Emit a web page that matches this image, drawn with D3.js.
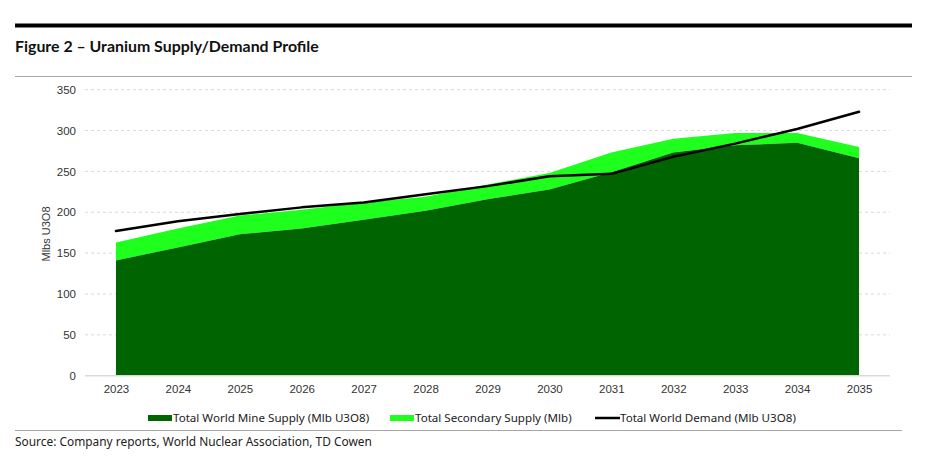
<!DOCTYPE html>
<html>
<head>
<meta charset="utf-8">
<script src="https://cdn.jsdelivr.net/npm/d3@7"></script>
<style>
  html, body { margin: 0; padding: 0; background: #fff; }
  svg { display: block; }
</style>
</head>
<body>
<svg id="chart" width="935" height="474"></svg>
<script>
const years = ["2023","2024","2025","2026","2027","2028","2029","2030","2031","2032","2033","2034","2035"];
const mineSupply = [141, 157, 173, 180, 191, 202, 216, 228, 249, 273, 282, 285, 266];
const secondarySupply = [22, 23, 23, 23, 21, 17, 18, 20, 24, 17, 15, 12, 14];
const worldDemand = [177, 189, 198, 206, 212, 222, 232, 244, 247, 268, 284, 302, 323];
const yTicks = [0, 50, 100, 150, 200, 250, 300, 350];
const seriesNames = ["Total World Mine Supply (Mlb U3O8)", "Total Secondary Supply (Mlb)", "Total World Demand (Mlb U3O8)"];

const svg = d3.select("#chart");
const C = { dark: "#006400", light: "#1eff1e", line: "#000000" };

// frame lines
svg.append("rect").attr("x", 15).attr("y", 23.5).attr("width", 897).attr("height", 4).attr("fill", "#000");
svg.append("text").attr("x", 15).attr("y", 51.5)
  .attr("font-family", "Lato, 'Open Sans', sans-serif").attr("font-weight", 700)
  .attr("font-size", 15.9).attr("fill", "#111")
  .text("Figure 2 – Uranium Supply/Demand Profile");
svg.append("line").attr("x1", 15).attr("x2", 912).attr("y1", 76.5).attr("y2", 76.5)
  .attr("stroke", "#a6a6a6").attr("stroke-width", 1);

const x = d3.scalePoint().domain(years).range([85, 890]).padding(0.5);
const y = d3.scaleLinear().domain([0, 350]).range([375.7, 89.7]);

// gridlines
const grid = svg.append("g");
grid.selectAll("line").data(yTicks.filter(d => d > 0)).join("line")
  .attr("x1", 85).attr("x2", 890)
  .attr("y1", d => y(d)).attr("y2", d => y(d))
  .attr("stroke", "#d9d9d9").attr("stroke-width", 1).attr("stroke-dasharray", "3,3");

const data = years.map((yr, i) => ({ yr, mine: mineSupply[i], sec: secondarySupply[i], dem: worldDemand[i] }));

const areaSec = d3.area().x(d => x(d.yr)).y0(d => y(d.mine)).y1(d => y(d.mine + d.sec));
const areaMine = d3.area().x(d => x(d.yr)).y0(y(0)).y1(d => y(d.mine));
svg.append("path").datum(data).attr("d", areaSec).attr("fill", C.light);
svg.append("path").datum(data).attr("d", areaMine).attr("fill", C.dark);

// baseline
svg.append("line").attr("x1", 85).attr("x2", 890).attr("y1", y(0)).attr("y2", y(0))
  .attr("stroke", "#d9d9d9").attr("stroke-width", 1.5);

const line = d3.line().x(d => x(d.yr)).y(d => y(d.dem));
svg.append("path").datum(data).attr("d", line).attr("fill", "none")
  .attr("stroke", C.line).attr("stroke-width", 2.5).attr("stroke-linecap", "round").attr("stroke-linejoin", "round");

// y axis
const yAxis = d3.axisLeft(y).tickValues(yTicks).tickSize(0).tickPadding(0);
const gy = svg.append("g").attr("transform", "translate(76,0)").call(yAxis);
gy.select(".domain").remove();
gy.selectAll("text").attr("font-family", "'Liberation Sans', Arial, sans-serif").attr("font-size", 11.5).attr("fill", "#333");

// x axis
const xAxis = d3.axisBottom(x).tickSize(0).tickPadding(0);
const gx = svg.append("g").attr("transform", "translate(0,385)").call(xAxis);
gx.select(".domain").remove();
gx.selectAll("text").attr("font-family", "'Liberation Sans', Arial, sans-serif").attr("font-size", 11.5).attr("fill", "#333");

// y label
svg.append("text").attr("transform", "translate(50,234) rotate(-90)")
  .attr("text-anchor", "middle")
  .attr("font-family", "'Liberation Sans', Arial, sans-serif").attr("font-size", 11).attr("fill", "#333")
  .text("Mlbs U3O8");

// legend
const legFont = "'Noto Sans', 'Open Sans', sans-serif";
const leg = [
  { name: seriesNames[0], type: "rect", color: C.dark, x: 148 },
  { name: seriesNames[1], type: "rect", color: C.light, x: 390 },
  { name: seriesNames[2], type: "line", color: C.line, x: 595 }
];
const lg = svg.append("g");
leg.forEach(l => {
  if (l.type === "rect") {
    lg.append("rect").attr("x", l.x).attr("y", 415).attr("width", 24).attr("height", 6).attr("fill", l.color);
  } else {
    lg.append("line").attr("x1", l.x).attr("x2", l.x + 25).attr("y1", 418).attr("y2", 418)
      .attr("stroke", l.color).attr("stroke-width", 2.5);
  }
  lg.append("text").attr("x", l.x + 25).attr("y", 422)
    .attr("font-family", legFont).attr("font-size", 11.6).attr("fill", "#222")
    .text(l.name);
});

svg.append("line").attr("x1", 15).attr("x2", 902).attr("y1", 430.5).attr("y2", 430.5)
  .attr("stroke", "#a6a6a6").attr("stroke-width", 1);

svg.append("text").attr("x", 15).attr("y", 445.5)
  .attr("font-family", legFont).attr("font-size", 11.9).attr("fill", "#222")
  .text("Source: Company reports, World Nuclear Association, TD Cowen");
</script>
</body>
</html>
